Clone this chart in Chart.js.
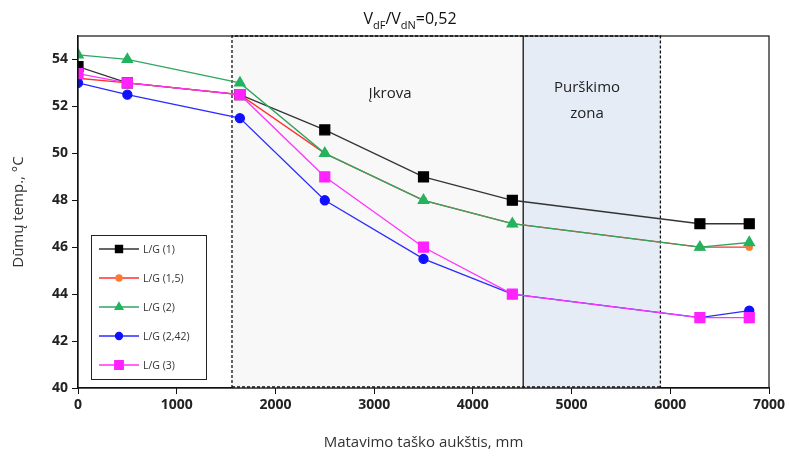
<!DOCTYPE html>
<html>
<head>
<meta charset="utf-8">
<script src="https://cdn.jsdelivr.net/npm/chart.js@4.4.1/dist/chart.umd.min.js"></script>
<style>
    html, body { margin: 0; padding: 0; background: #fff; }
    #wrap { width: 789px; height: 456px; position: relative; }
</style>
</head>
<body>
<div id="wrap"><canvas id="chart"></canvas></div>
<script>
/* ===============================
   DATA
=================================*/

const heights = [0, 500, 1640, 2500, 3500, 4400, 6300, 6800];

const lg1   = [53.7, 53.0, 52.5, 51.0, 49.0, 48.0, 47.0, 47.0];
const lg15  = [53.2, 53.0, 52.5, 50.0, 48.0, 47.0, 46.0, 46.0];
const lg2   = [54.2, 54.0, 53.0, 50.0, 48.0, 47.0, 46.0, 46.2];
const lg242 = [53.0, 52.5, 51.5, 48.0, 45.5, 44.0, 43.0, 43.3];
const lg3   = [53.4, 53.0, 52.5, 49.0, 46.0, 44.0, 43.0, 43.0];

const seriesNames = ["L/G (1)", "L/G (1,5)", "L/G (2)", "L/G (2,42)", "L/G (3)"];

// zones along the x axis, mm
const zoneLoading = [1560, 4510];
const zoneSpray = [4510, 5900];

const FONT = "'Open Sans', 'Liberation Sans', sans-serif";

/* ===============================
   HELPERS
=================================*/

function toPoints(values) {
    return heights.map((h, i) => ({ x: h, y: values[i] }));
}

function makeSet(label, values, color, pointColor, style, radius, order, legendRadius) {
    return {
        label,
        data: toPoints(values),
        borderColor: color,
        backgroundColor: pointColor,
        pointBackgroundColor: pointColor,
        pointBorderColor: pointColor,
        pointStyle: style,
        pointRadius: radius,
        pointHoverRadius: radius,
        borderWidth: 1.3,
        tension: 0,
        order,
        legendRadius
    };
}

/* ===============================
   PLUGINS
=================================*/

const zonesPlugin = {
    id: "zones",
    beforeDatasetsDraw(chart) {
        const { ctx, chartArea, scales } = chart;
        const x = scales.x;
        const top = chartArea.top, bottom = chartArea.bottom;

        const a1 = x.getPixelForValue(zoneLoading[0]);
        const a2 = x.getPixelForValue(zoneLoading[1]);
        const b2 = x.getPixelForValue(zoneSpray[1]);

        ctx.save();
        ctx.fillStyle = "#f8f8f8";
        ctx.fillRect(a1, top, a2 - a1, bottom - top);
        ctx.fillStyle = "#e6ecf6";
        ctx.fillRect(a2, top, b2 - a2, bottom - top);

        ctx.strokeStyle = "#111";
        ctx.lineWidth = 1.3;
        ctx.setLineDash([3, 2]);
        ctx.beginPath();
        ctx.moveTo(a1, bottom); ctx.lineTo(a1, top); ctx.lineTo(b2, top); ctx.lineTo(b2, bottom);
        ctx.moveTo(a1, bottom - 1); ctx.lineTo(b2, bottom - 1);
        ctx.stroke();
        ctx.setLineDash([]);
        ctx.beginPath();
        ctx.moveTo(a2, top); ctx.lineTo(a2, bottom);
        ctx.stroke();

        ctx.fillStyle = "#222";
        ctx.font = "15px " + FONT;
        ctx.textAlign = "center";
        ctx.textBaseline = "middle";
        ctx.fillText("Įkrova", 390, 94);
        ctx.fillText("Purškimo", 587, 88);
        ctx.fillText("zona", 587, 114);
        ctx.restore();
    },
    afterDraw(chart) {
        const { ctx, chartArea } = chart;
        ctx.save();
        ctx.strokeStyle = "#111";
        ctx.lineWidth = 1.2;
        ctx.strokeRect(chartArea.left, chartArea.top, chartArea.right - chartArea.left, chartArea.bottom - chartArea.top);

        // title with subscripts
        const cx = 410, cy = 18;
        const parts = [["V", 16, 0], ["dF", 11, 5], ["/V", 16, 0], ["dN", 11, 5], ["=0,52", 16, 0]];
        let total = 0;
        parts.forEach(p => { ctx.font = p[1] + "px " + FONT; total += ctx.measureText(p[0]).width; });
        let px = cx - total / 2;
        ctx.fillStyle = "#111";
        ctx.textBaseline = "alphabetic";
        ctx.textAlign = "left";
        parts.forEach(p => {
            ctx.font = p[1] + "px " + FONT;
            ctx.fillText(p[0], px, cy + 6 + p[2]);
            px += ctx.measureText(p[0]).width;
        });

        // legend box
        const lx = 91, ly = 235, lw = 115, lh = 144;
        ctx.fillStyle = "#fff";
        ctx.fillRect(lx, ly, lw, lh);
        ctx.strokeStyle = "#222";
        ctx.lineWidth = 1;
        ctx.strokeRect(lx + 0.5, ly + 0.5, lw, lh);

        chart.data.datasets.forEach((ds, i) => {
            const y = ly + 14 + i * 29;
            ctx.strokeStyle = ds.borderColor;
            ctx.lineWidth = 1.3;
            ctx.beginPath();
            ctx.moveTo(lx + 8, y); ctx.lineTo(lx + 48, y);
            ctx.stroke();
            ctx.fillStyle = ds.pointBackgroundColor;
            ctx.strokeStyle = ds.pointBorderColor;
            Chart.helpers.drawPoint(ctx, { pointStyle: ds.pointStyle, radius: ds.legendRadius, borderWidth: 1, rotation: 0 }, lx + 28, y);
            ctx.fillStyle = "#333";
            ctx.font = "10.5px " + FONT;
            ctx.textAlign = "left";
            ctx.textBaseline = "middle";
            ctx.fillText(ds.label, lx + 52, y + 1);
        });
        ctx.restore();
    }
};

/* ===============================
   CHART
=================================*/

new Chart(document.getElementById("chart"), {
    type: "line",
    data: {
        datasets: [
            makeSet(seriesNames[0], lg1, "#333333", "#000000", "rect", 7, 5, 5),
            makeSet(seriesNames[1], lg15, "#ff3030", "#ff7a30", "circle", 3, 4, 3),
            makeSet(seriesNames[2], lg2, "#2ea860", "#22b35e", "triangle", 6, 3, 4.5),
            makeSet(seriesNames[3], lg242, "#2b2bff", "#1010ff", "circle", 4.5, 2, 3.5),
            makeSet(seriesNames[4], lg3, "#ff33ff", "#ff22ff", "rect", 7, 1, 6)
        ]
    },
    options: {
        responsive: true,
        maintainAspectRatio: false,
        animation: false,
        layout: { padding: { left: 10, right: 20, top: 36, bottom: 0 } },
        plugins: { legend: { display: false }, tooltip: { enabled: false } },
        scales: {
            x: {
                type: "linear",
                min: 0,
                max: 7000,
                ticks: {
                    stepSize: 1000, color: "#222", padding: 3,
                    font: { family: FONT, size: 14, weight: "bold" },
                    callback: v => String(v)
                },
                grid: { drawOnChartArea: false, color: "#111", tickLength: 6 },
                border: { color: "#111", width: 1.2 },
                title: { display: true, text: "Matavimo taško aukštis, mm", color: "#333", font: { family: FONT, size: 15 }, padding: { top: 6 } },
                afterFit(scale) { scale.height = 68; }
            },
            y: {
                min: 40,
                max: 55,
                afterBuildTicks(scale) { scale.ticks = scale.ticks.filter(t => t.value <= 54); },
                ticks: {
                    stepSize: 2, color: "#222", padding: 4,
                    font: { family: FONT, size: 14, weight: "bold" },
                    callback: v => String(v)
                },
                grid: { drawOnChartArea: false, color: "#111", tickLength: 6 },
                border: { color: "#111", width: 1.2 },
                title: { display: true, text: "Dūmų temp., °C", color: "#333", font: { family: FONT, size: 15 }, padding: 0 },
                afterFit(scale) { scale.width = 68; }
            }
        }
    },
    plugins: [zonesPlugin]
});
</script>
</body>
</html>
